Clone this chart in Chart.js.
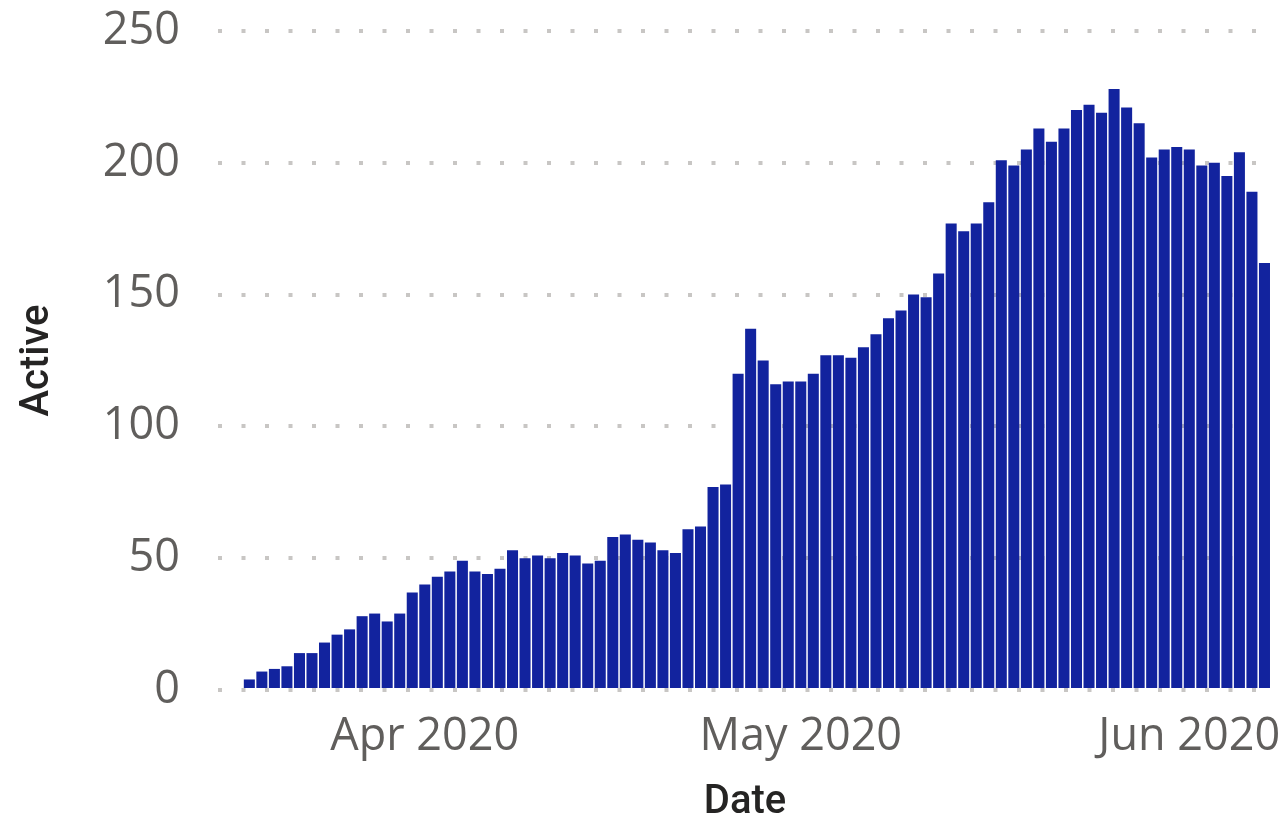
<!DOCTYPE html>
<html>
<head>
<meta charset="utf-8">
<title>Active by Date</title>
<script src="https://cdn.jsdelivr.net/npm/chart.js@4/dist/chart.umd.min.js"></script>
<style>
  html, body { margin: 0; padding: 0; background: #ffffff; }
  #wrap { width: 1284px; height: 829px; }
</style>
</head>
<body>
<div id="wrap"><canvas id="activeChart"></canvas></div>
<script>
// Daily dates shown on the axis
const dates = [
  '2020-03-18','2020-03-19','2020-03-20','2020-03-21','2020-03-22','2020-03-23','2020-03-24',
  '2020-03-25','2020-03-26','2020-03-27','2020-03-28','2020-03-29','2020-03-30','2020-03-31',
  '2020-04-01','2020-04-02','2020-04-03','2020-04-04','2020-04-05','2020-04-06','2020-04-07',
  '2020-04-08','2020-04-09','2020-04-10','2020-04-11','2020-04-12','2020-04-13','2020-04-14',
  '2020-04-15','2020-04-16','2020-04-17','2020-04-18','2020-04-19','2020-04-20','2020-04-21',
  '2020-04-22','2020-04-23','2020-04-24','2020-04-25','2020-04-26','2020-04-27','2020-04-28',
  '2020-04-29','2020-04-30','2020-05-01','2020-05-02','2020-05-03','2020-05-04','2020-05-05',
  '2020-05-06','2020-05-07','2020-05-08','2020-05-09','2020-05-10','2020-05-11','2020-05-12',
  '2020-05-13','2020-05-14','2020-05-15','2020-05-16','2020-05-17','2020-05-18','2020-05-19',
  '2020-05-20','2020-05-21','2020-05-22','2020-05-23','2020-05-24','2020-05-25','2020-05-26',
  '2020-05-27','2020-05-28','2020-05-29','2020-05-30','2020-05-31','2020-06-01','2020-06-02',
  '2020-06-03','2020-06-04','2020-06-05','2020-06-06','2020-06-07'
];

// Active cases per day
const active = [
  4, 7, 8, 9, 14, 14, 18, 21, 23, 28,
  29, 26, 29, 37, 40, 43, 45, 49, 45, 44,
  46, 53, 50, 51, 50, 52, 51, 48, 49, 58,
  59, 57, 56, 53, 52, 61, 62, 77, 78, 120,
  137, 125, 116, 117, 117, 120, 127, 127, 126, 130,
  135, 141, 144, 150, 149, 158, 177, 174, 177, 185,
  201, 199, 205, 213, 208, 213, 220, 222, 219, 228,
  221, 215, 202, 205, 206, 205, 199, 200, 195, 204,
  189, 162
];

// Month ticks on the x axis
const tickDates = ['2020-04-01', '2020-05-01', '2020-06-01'];
const tickLabels = ['Apr 2020', 'May 2020', 'Jun 2020'];

// y axis ticks
const yTicks = [0, 50, 100, 150, 200, 250];

const tickFont = { family: "'Segoe UI', 'Open Sans', sans-serif", size: 45 };
const titleFont = { family: "'DIN', Roboto, sans-serif", size: 40, weight: 500 };

const points = dates.map((d, i) => ({ x: i, y: active[i] }));

new Chart(document.getElementById('activeChart'), {
  type: 'bar',
  data: {
    datasets: [{
      label: 'Active',
      data: points,
      backgroundColor: '#12239E',
      borderWidth: 0,
      barPercentage: 0.88,
      categoryPercentage: 1
    }]
  },
  options: {
    responsive: true,
    maintainAspectRatio: false,
    animation: false,
    layout: { padding: { top: 31, right: 12, bottom: 0, left: 0 } },
    plugins: { legend: { display: false }, tooltip: { enabled: false } },
    scales: {
      x: {
        type: 'linear',
        offset: false, // linear scale adds half a tick step on each side otherwise
        bounds: 'data',
        min: -2.5,
        max: 81.6,
        grid: { display: false, drawTicks: false },
        border: { display: false },
        afterBuildTicks: (scale) => {
          scale.ticks = tickDates.map(d => ({ value: dates.indexOf(d) }));
        },
        afterFit: (scale) => {
          scale.height = 139;
          scale.paddingLeft = 0;
          scale.paddingRight = 0;
        },
        ticks: {
          autoSkip: false,
          maxRotation: 0,
          minRotation: 0,
          padding: 20,
          color: '#605E5C',
          font: tickFont,
          callback: (value, index) => tickLabels[index]
        },
        title: {
          display: true,
          text: 'Date',
          color: '#252423',
          font: titleFont,
          padding: { top: 0, bottom: 2 }
        }
      },
      y: {
        min: 0,
        max: 250,
        afterBuildTicks: (scale) => {
          scale.ticks = yTicks.map(v => ({ value: v }));
        },
        afterFit: (scale) => {
          scale.width = 218;
          scale.paddingTop = 0;
          scale.paddingBottom = 0;
        },
        grid: { color: '#C8C6C4', lineWidth: 4, drawTicks: false },
        border: { display: false, dash: [4, 19.5] },
        ticks: {
          padding: 38,
          color: '#605E5C',
          font: tickFont
        },
        title: {
          display: true,
          text: 'Active',
          color: '#252423',
          font: titleFont,
          padding: { top: 14, bottom: 0 }
        }
      }
    }
  }
});
</script>
</body>
</html>
